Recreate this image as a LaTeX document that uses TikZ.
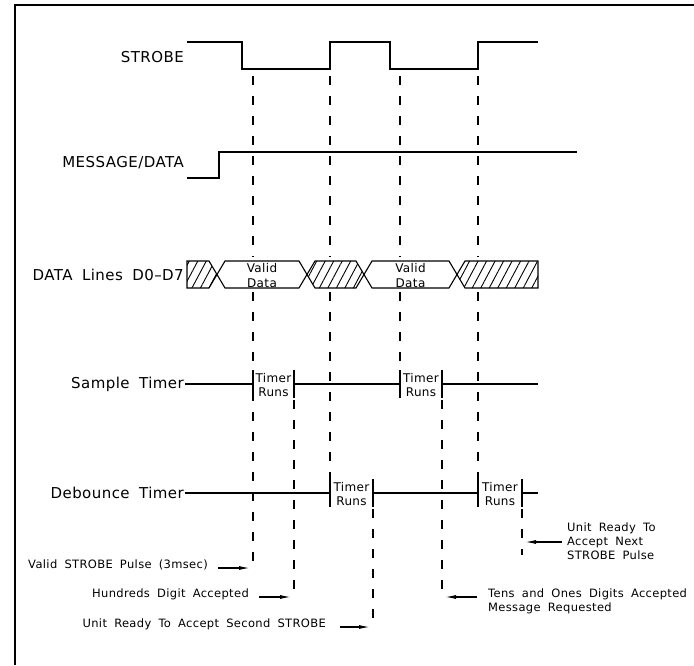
\documentclass[tikz,border=0pt]{standalone}
\usepackage{fontspec}
\setmainfont{DejaVu Sans}[WordSpace=1.8,LetterSpace=3]
\usetikzlibrary{arrows.meta,positioning,patterns.meta}
\tikzset{
  lbl/.style  ={anchor=east,font=\fontsize{15}{17}\selectfont,inner sep=1pt},
  note/.style ={align=left,font=\fontsize{11.5}{14}\selectfont,inner sep=0pt},
  tiny/.style ={align=center,font=\fontsize{12}{14.5}\selectfont,inner sep=0pt},
  wave/.style ={line width=1.3pt,line join=miter},
  guide/.style={line width=1.1pt,dash pattern=on 9pt off 11pt},
  tbar/.style ={line width=2.8pt},
  hatch/.style={draw,line width=1.1pt,pattern={Lines[angle=62,distance=7.5pt,line width=0.9pt]}},
  bus/.style  ={draw,line width=1.1pt},
  ptr/.style  ={line width=1.2pt,-{Latex[length=11pt,width=4pt]}},
  frm/.style  ={line width=1.8pt},
}

\begin{document}
\begin{tikzpicture}[x=1pt,y=-1pt]
\useasboundingbox (0,0) rectangle (694,665);
\draw[frm] (15,665) -- (15,5) -- (694,5);

% signal names
\node[lbl] (STR) at (185,57)  {STROBE};
\node[lbl] (MSG) at (185,163) {MESSAGE/DATA};
\node[lbl] (DAT) at (185,275) {DATA Lines D0--D7};
\node[lbl] (SMP) at (185,384) {Sample Timer};
\node[lbl] (DEB) at (185,493) {Debounce Timer};

% waveforms
\draw[wave] (187,42) -- (242,42) -- (242,69) -- (330,69) -- (330,42) -- (390,42)
  -- (390,69) -- (478,69) -- (478,42) -- (538,42);
\draw[wave] (187,178) -- (219,178) -- (219,152) -- (577,152);

% data bus
\draw[hatch] (187,261) -- (209,261) -- (217,274.5) -- (209,288) -- (187,288) -- cycle;
\draw[bus]   (217,274.5) -- (225,261) -- (299,261) -- (307,274.5) -- (299,288) -- (225,288) -- cycle;
\draw[hatch] (307,274.5) -- (315,261) -- (356,261) -- (364,274.5) -- (356,288) -- (315,288) -- cycle;
\draw[bus]   (364,274.5) -- (372,261) -- (449,261) -- (457,274.5) -- (449,288) -- (372,288) -- cycle;
\draw[hatch] (457,274.5) -- (465,261) -- (538,261) -- (538,288) -- (465,288) -- cycle;
\node[tiny] (VD1) at (262,275.5) {Valid\\Data};
\node[tiny] (VD2) at (410.5,275.5) {Valid\\Data};

% guide lines
\foreach \x in {253,330,400,478}
  \draw[guide] (\x,76) -- (\x,257);
\draw[guide] (253,292) -- (253,568);
\draw[guide] (330,292) -- (330,479);
\draw[guide] (400,292) -- (400,370);
\draw[guide] (478,292) -- (478,479);
\draw[guide] (294,400) -- (294,598);
\draw[guide] (373,509) -- (373,627);
\draw[guide] (442,400) -- (442,597);
\draw[guide] (522,509) -- (522,555);

% timers
\draw[wave] (SMP.east) -- (253,384) (294,384) -- (400,384) (442,384) -- (538,384);
\draw[wave] (DEB.east) -- (330,493) (373,493) -- (478,493) (522,493) -- (538,493);
\foreach \x in {253,294,400,442}
  \draw[tbar] (\x,370) -- (\x,398);
\foreach \x in {330,373,478,522}
  \draw[tbar] (\x,479) -- (\x,507);
\node[tiny] (ST1) at (273.5,385) {Timer\\Runs};
\node[tiny] (ST2) at (421,385)   {Timer\\Runs};
\node[tiny] (DT1) at (351.5,494) {Timer\\Runs};
\node[tiny] (DT2) at (500,494)   {Timer\\Runs};

% event notes
\node[note,anchor=east] (N1) at (208,565) {Valid STROBE Pulse (3msec)};
\node[note,anchor=east] (N2) at (249,594) {Hundreds Digit Accepted};
\node[note,anchor=east] (N3) at (326,624) {Unit Ready To Accept Second STROBE};
\node[note,anchor=west] (N4) at (488,601) {Tens and Ones Digits Accepted\\Message Requested};
\node[note,anchor=west] (N5) at (567,541) {Unit Ready To\\Accept Next\\STROBE Pulse};

\coordinate (a1) at (218,568); \coordinate (t1) at (250,568);
\coordinate (a2) at (259,597); \coordinate (t2) at (291,597);
\coordinate (a3) at (340,627); \coordinate (t3) at (370,627);
\coordinate (a4) at (477,597); \coordinate (t4) at (445,597);
\coordinate (a5) at (562,542); \coordinate (t5) at (525,542);
\draw[ptr] (a1) -- (t1);
\draw[ptr] (a2) -- (t2);
\draw[ptr] (a3) -- (t3);
\draw[ptr] (a4) -- (t4);
\draw[ptr] (a5) -- (t5);
\end{tikzpicture}
\end{document}
